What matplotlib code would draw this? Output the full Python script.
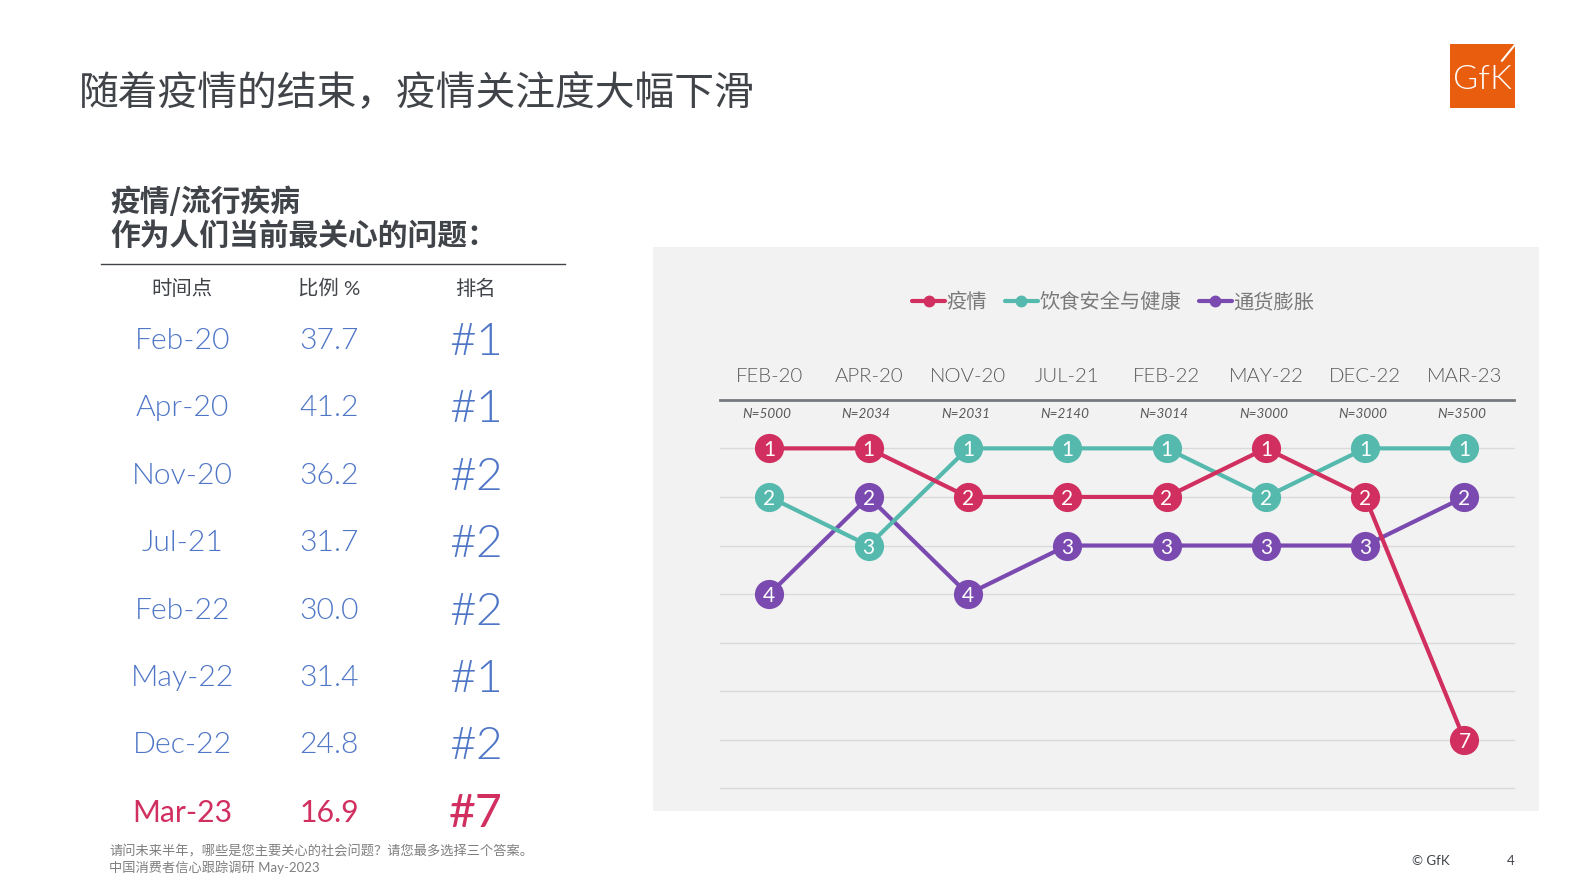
import matplotlib
matplotlib.use('Agg')
import matplotlib.pyplot as plt
from matplotlib.lines import Line2D
from matplotlib.patches import Rectangle

W, H = 1587, 892
S = 1587 / 1568  # layout below is measured on a 1568-wide view
periods = ['FEB-20', 'APR-20', 'NOV-20', 'JUL-21', 'FEB-22', 'MAY-22', 'DEC-22', 'MAR-23']
samples = ['N=5000', 'N=2034', 'N=2031', 'N=2140', 'N=3014', 'N=3000', 'N=3000', 'N=3500']
rank_epidemic = [1, 1, 2, 2, 2, 1, 2, 7]
rank_food = [2, 3, 1, 1, 1, 2, 1, 1]
rank_inflation = [4, 2, 4, 3, 3, 3, 3, 2]
series_names = ['疫情', '饮食安全与健康', '通货膨胀']

table_dates = ['Feb-20', 'Apr-20', 'Nov-20', 'Jul-21', 'Feb-22', 'May-22', 'Dec-22', 'Mar-23']
table_pct = ['37.7', '41.2', '36.2', '31.7', '30.0', '31.4', '24.8', '16.9']
table_rank = ['#1', '#1', '#2', '#2', '#2', '#1', '#2', '#7']
table_heads = ['时间点', '比例 %', '排名']

RED, TEAL, PURPLE = '#D12F5F', '#55B9AE', '#7B4AB0'
BLUE, DARK, GREY = '#4F76C6', '#404449', '#7F7F7F'
LATIN = ['Lato', 'Noto Sans CJK SC', 'DejaVu Sans']
CJK = ['Noto Sans CJK SC', 'DejaVu Sans']

fig = plt.figure(figsize=(W / 100, H / 100), dpi=100, facecolor='white')

def fx(x): return x * S / W
def fy(y): return 1 - y * S / H
def T(x, y, s, **kw):
    kw.setdefault('va', 'center_baseline')
    kw['fontsize'] = kw['fontsize'] * S
    return fig.text(fx(x), fy(y), s, **kw)

# grey panel and logo
fig.add_artist(Rectangle((fx(645), fy(801)), 876 * S / W, 557 * S / H, transform=fig.transFigure,
                         fc='#F2F2F2', ec='none', zorder=-5))
fig.add_artist(Rectangle((fx(1433), fy(107)), 64 * S / W, 64 * S / H, transform=fig.transFigure,
                         fc='#E95D0F', ec='none'))
T(1465, 76, 'GfK', color='white', fontsize=24.5, family=['Lato'], ha='center', weight=300)
fig.add_artist(Line2D([fx(1484), fx(1497)], [fy(60), fy(44)], transform=fig.transFigure,
                      color='white', lw=1.5))

# titles
T(78, 89, '随着疫情的结束，疫情关注度大幅下滑', fontsize=28.3, color=DARK, family=CJK)
T(109, 196, '疫情/流行疾病', fontsize=21.2, color=DARK, family=CJK, weight='bold')
T(109, 230.5, '作为人们当前最关心的问题：', fontsize=21.2, color=DARK, family=CJK, weight='bold')
fig.add_artist(Line2D([fx(100), fx(558)], [fy(261), fy(261)], transform=fig.transFigure,
                      color=DARK, lw=1))

# left table
col_x = [180, 325, 470]
for cx, head in zip(col_x, table_heads):
    T(cx, 283, head, fontsize=14.5, color=DARK, family=LATIN, ha='center')
for i, (d, p, r) in enumerate(zip(table_dates, table_pct, table_rank)):
    y = 334.5 + i * 66.6
    last = i == len(table_dates) - 1
    c = RED if last else BLUE
    wt = 400 if last else 300
    T(col_x[0], y, d, fontsize=21.4, color=c, family=LATIN, ha='center', weight=wt)
    T(col_x[1], y, p, fontsize=21.4, color=c, family=LATIN, ha='center', weight=wt)
    T(col_x[2], y, r, fontsize=33, color=c, family=LATIN, ha='center', weight=wt)

T(108, 840, '请问未来半年，哪些是您主要关心的社会问题？请您最多选择三个答案。', fontsize=9.4, color=GREY, family=CJK)
T(108, 856, '中国消费者信心跟踪调研 May-2023', fontsize=9.4, color=GREY, family=LATIN)
T(1395, 850, '© GfK', fontsize=9.5, color=DARK, family=LATIN)
T(1493, 850, '4', fontsize=9.5, color=DARK, family=LATIN, ha='center')

# bump chart
ax = fig.add_axes([fx(711), fy(779), 785 * S / W, 384 * S / H])
ax.patch.set_alpha(0)
x = list(range(len(periods)))
ax.set_xlim(-0.5, 7.5)
ax.set_ylim(8, 0)
ax.set_yticks(range(1, 9))
ax.set_yticklabels([])
ax.grid(axis='y', color='#DADADA', lw=1, clip_on=False)
ax.grid(axis='x', visible=False)
ax.set_axisbelow(True)
ax.tick_params(axis='y', length=0)
ax.xaxis.tick_top()
ax.set_xticks(x)
ax.set_xticklabels(periods, fontsize=14.7, color='#595959', family=LATIN, weight=300)
ax.tick_params(axis='x', length=0, pad=11)
for s in ['left', 'right', 'bottom']:
    ax.spines[s].set_visible(False)
ax.spines['top'].set_color('#767A7F')
ax.spines['top'].set_linewidth(2)

for xi, n in zip(x, samples):
    ax.text(xi - 0.025, 0.27, n, fontsize=9.7, style='italic', color='#595959',
            family=LATIN, ha='center', va='center_baseline')

series = [(rank_inflation, PURPLE, 2), (rank_food, TEAL, 1), (rank_epidemic, RED, 0)]
for ranks, color, idx in series:
    ax.plot(x, ranks, color=color, lw=3, marker='o', ms=21, mec='none', zorder=3 + (2 - idx) * 0.1,
            solid_capstyle='round', clip_on=False)
    for xi, r in zip(x, ranks):
        ax.text(xi, r, str(r), color='white', fontsize=15, family=LATIN, ha='center',
                va='center_baseline', zorder=5)

handles = [Line2D([], [], color=c, lw=3, marker='o', ms=7.5, solid_capstyle='round')
           for c in (RED, TEAL, PURPLE)]
fig.legend(handles, series_names, ncol=3, frameon=False, loc='center',
           bbox_to_anchor=(fx(1100), fy(299)), prop={'family': CJK, 'size': 14.6},
           labelcolor='#7A7A7A', handlelength=1.6, handletextpad=0.08, columnspacing=0.9,
           borderpad=0, borderaxespad=0)

fig.savefig('out.png', dpi=100)
